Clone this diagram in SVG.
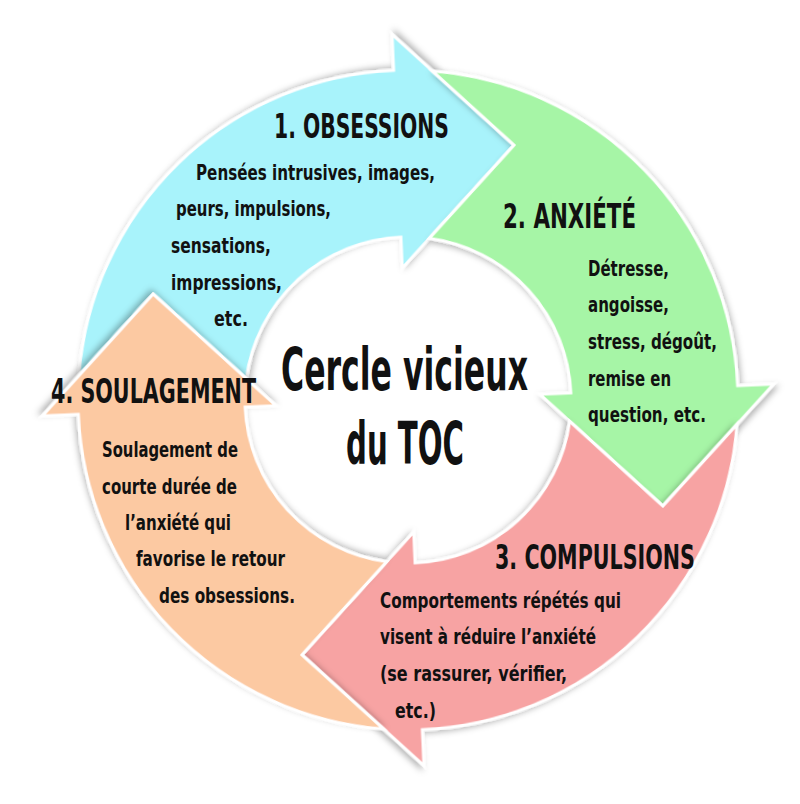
<svg xmlns="http://www.w3.org/2000/svg" width="800" height="804" viewBox="0 0 800 804">
<defs>
<filter id="sh" x="-10%" y="-10%" width="120%" height="120%"><feDropShadow dx="2" dy="3" stdDeviation="3" flood-color="#000" flood-opacity="0.3"/></filter>
<path id="seg" d="M 38.6,-327.7 A 330 330 0 0 1 330,0 L 366,0 L 250,117 L 132,0 L 163,0 A 163 163 0 0 0 28.3,-160.5 L 117,-250 Z"/>
</defs>
<style>
.s{stroke:#fff;stroke-width:3;stroke-linejoin:miter;filter:url(#sh)}
text{font-family:"DejaVu Sans Condensed","DejaVu Sans",sans-serif;font-weight:bold;fill:#111}
.h{font-size:34px}
.b{font-size:21px}
.c{font-size:58px}
</style>
<rect width="800" height="804" fill="#fff"/>
<g id="connectors"/>
<g id="obsessions">
<use href="#seg" class="s" fill="#a8f3fb" transform="translate(408,400) rotate(-92.5)"/>
<text class="h" x="274" y="138" textLength="175" lengthAdjust="spacingAndGlyphs">1. OBSESSIONS</text>
<text class="b" x="196" y="180" textLength="239" lengthAdjust="spacingAndGlyphs">Pensées intrusives, images,</text>
<text class="b" x="176" y="216" textLength="155" lengthAdjust="spacingAndGlyphs">peurs, impulsions,</text>
<text class="b" x="171" y="253" textLength="100" lengthAdjust="spacingAndGlyphs">sensations,</text>
<text class="b" x="171" y="290" textLength="111" lengthAdjust="spacingAndGlyphs">impressions,</text>
<text class="b" x="214" y="326" textLength="34" lengthAdjust="spacingAndGlyphs">etc.</text>
</g>
<g id="anxiete">
<use href="#seg" class="s" fill="#a6f5a6" transform="translate(408,400) rotate(-2.5)"/>
<text class="h" x="503" y="228" textLength="133" lengthAdjust="spacingAndGlyphs">2. ANXIÉTÉ</text>
<text class="b" x="588" y="276" textLength="81" lengthAdjust="spacingAndGlyphs">Détresse,</text>
<text class="b" x="588" y="312" textLength="81" lengthAdjust="spacingAndGlyphs">angoisse,</text>
<text class="b" x="588" y="349" textLength="129" lengthAdjust="spacingAndGlyphs">stress, dégoût,</text>
<text class="b" x="588" y="386" textLength="83" lengthAdjust="spacingAndGlyphs">remise en</text>
<text class="b" x="588" y="422" textLength="118" lengthAdjust="spacingAndGlyphs">question, etc.</text>
</g>
<g id="compulsions">
<use href="#seg" class="s" fill="#f7a3a3" transform="translate(408,400) rotate(87.5)"/>
<text class="h" x="495" y="569" textLength="200" lengthAdjust="spacingAndGlyphs">3. COMPULSIONS</text>
<text class="b" x="380" y="608" textLength="241" lengthAdjust="spacingAndGlyphs">Comportements répétés qui</text>
<text class="b" x="380" y="644" textLength="216" lengthAdjust="spacingAndGlyphs">visent à réduire l’anxiété</text>
<text class="b" x="380" y="681" textLength="187" lengthAdjust="spacingAndGlyphs">(se rassurer, vérifier,</text>
<text class="b" x="395" y="718" textLength="41" lengthAdjust="spacingAndGlyphs">etc.)</text>
</g>
<g id="soulagement">
<use href="#seg" class="s" fill="#fcc9a2" transform="translate(408,400) rotate(177.5)"/>
<text class="h" x="51" y="403" textLength="205" lengthAdjust="spacingAndGlyphs">4. SOULAGEMENT</text>
<text class="b" x="102" y="457" textLength="136" lengthAdjust="spacingAndGlyphs">Soulagement de</text>
<text class="b" x="102" y="494" textLength="135" lengthAdjust="spacingAndGlyphs">courte durée de</text>
<text class="b" x="125" y="530" textLength="106" lengthAdjust="spacingAndGlyphs">l’anxiété qui</text>
<text class="b" x="136" y="566" textLength="149" lengthAdjust="spacingAndGlyphs">favorise le retour</text>
<text class="b" x="159" y="603" textLength="136" lengthAdjust="spacingAndGlyphs">des obsessions.</text>
</g>
<g id="center">
<text class="c" x="281" y="390" textLength="247" lengthAdjust="spacingAndGlyphs">Cercle vicieux</text>
<text class="c" x="346" y="464" textLength="118" lengthAdjust="spacingAndGlyphs">du TOC</text>
</g>
</svg>
